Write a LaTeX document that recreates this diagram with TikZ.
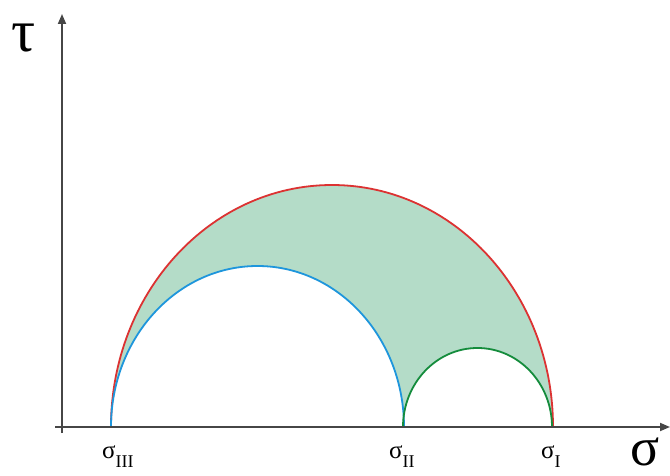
\documentclass[tikz,border=0pt]{standalone}
\usepackage{fontspec}
\setmainfont{Liberation Serif}
\usetikzlibrary{arrows.meta}
\definecolor{axisgray}{RGB}{70,70,70}
\definecolor{redc}{RGB}{220,50,50}
\definecolor{bluec}{RGB}{30,150,220}
\definecolor{greenc}{RGB}{20,140,60}
\definecolor{fillc}{RGB}{180,220,200}
\tikzset{
  axis/.style={draw=axisgray, line width=1.8pt, -{Triangle[length=10pt,width=8pt]}},
  circ/.style={line width=1.8pt},
  biglabel/.style={inner sep=0pt, anchor=base west},
  sublabel/.style={inner sep=0pt, anchor=base west}
}
\newcommand{\sglab}[1]{{\fontsize{25}{25}\selectfont σ}\raisebox{-9pt}{\fontsize{18}{18}\selectfont #1}}
\begin{document}
\begin{tikzpicture}[x=1pt,y=-1pt]
\useasboundingbox (0,0) rectangle (670,476);
% fill region
\fill[fillc] (111,427) arc[start angle=180, end angle=360, x radius=221, y radius=242] -- cycle;
\fill[white] (111,427) arc[start angle=180, end angle=360, x radius=146.5, y radius=161] -- cycle;
\fill[white] (403,427) arc[start angle=180, end angle=360, x radius=74.5, y radius=79] -- cycle;
% circles
\draw[circ, redc] (111,427) arc[start angle=180, end angle=360, x radius=221, y radius=242];
\draw[circ, bluec] (111,427) arc[start angle=180, end angle=360, x radius=146.5, y radius=161];
\draw[circ, greenc] (403,427) arc[start angle=180, end angle=360, x radius=74.5, y radius=79];
% axes
\coordinate (xs) at (55,427);
\coordinate (xe) at (670,427);
\coordinate (ys) at (62,433);
\coordinate (ye) at (62,14);
\draw[axis] (xs) -- (xe);
\draw[axis] (ys) -- (ye);
% labels
\node[biglabel, font=\fontsize{60}{60}\selectfont] (tau) at (11,52) {τ};
\node[biglabel, font=\fontsize{54}{54}\selectfont] (sig) at (630,465) {σ};
\node[sublabel] (s3) at (102,458) {\sglab{III}};
\node[sublabel] (s2) at (389,458) {\sglab{II}};
\node[sublabel] (s1) at (541,458) {\sglab{I}};
\end{tikzpicture}
\end{document}
